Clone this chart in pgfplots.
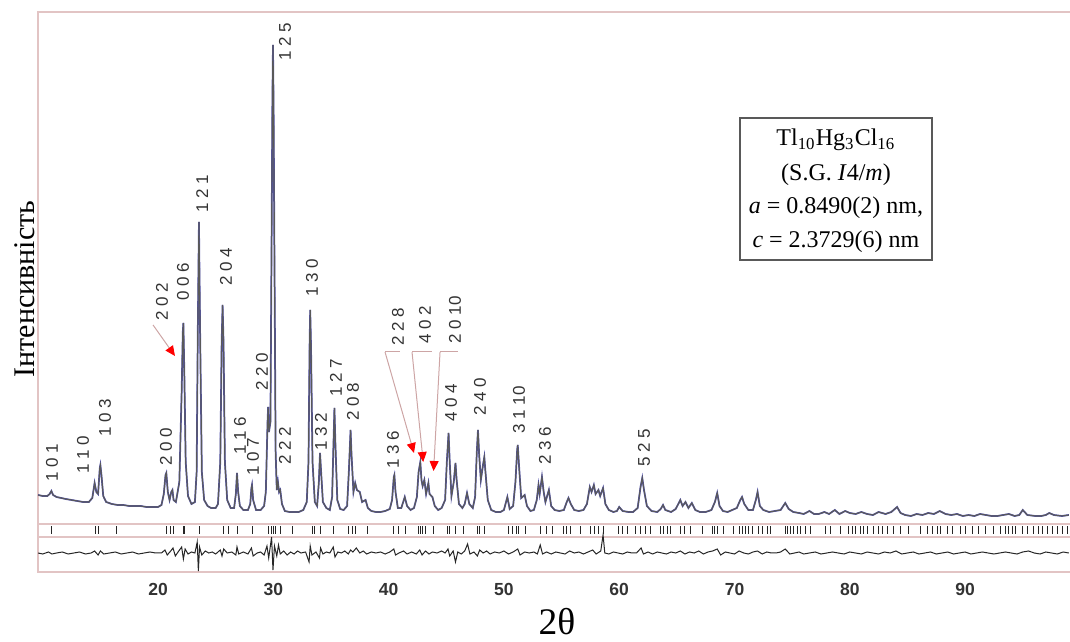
\documentclass[border=0pt]{standalone}
\usepackage{fontspec}
\setmainfont{Liberation Serif}
\setsansfont{Liberation Sans}
\usepackage{pgfplots}
\pgfplotsset{compat=1.18}
\usepackage{pgfplotstable}
\usetikzlibrary{arrows.meta}

\definecolor{framepink}{RGB}{226,196,196}
\definecolor{obsblue}{RGB}{84,84,176}
\definecolor{leader}{RGB}{205,165,165}

% observed pattern (2theta, intensity in arbitrary units)
\pgfplotstableread[row sep=\\]{
x y\\
9.6 77\\ 10.0 76\\ 10.4 76\\ 10.6 78\\ 10.75 81\\ 10.9 77\\ 11.2 75\\ 11.6 74\\ 12.0 73\\ 12.5 72\\
13.0 71\\ 13.5 70\\ 14.0 70\\ 14.3 74\\ 14.5 89\\ 14.65 80\\ 14.8 78\\ 14.95 104\\ 15.0 107\\ 15.1 96\\
15.25 76\\ 15.5 70\\ 16.0 68\\ 16.5 67\\ 17.0 67\\ 17.5 66\\ 18.0 66\\ 18.5 66\\ 19.0 65\\ 19.5 65\\
20.0 65\\ 20.3 67\\ 20.5 78\\ 20.65 97\\ 20.72 99\\ 20.85 80\\ 21.0 72\\ 21.15 80\\ 21.25 82\\ 21.35 72\\
21.55 70\\ 21.85 90\\ 22.05 180\\ 22.15 240\\ 22.2 249\\ 22.28 200\\ 22.4 110\\ 22.6 76\\ 22.9 68\\ 23.2 70\\
23.35 100\\ 23.45 240\\ 23.55 350\\ 23.65 240\\ 23.8 100\\ 24.0 72\\ 24.3 66\\ 24.6 64\\ 25.0 64\\ 25.2 68\\
25.4 110\\ 25.52 230\\ 25.6 267\\ 25.68 230\\ 25.8 110\\ 26.0 72\\ 26.3 64\\ 26.6 64\\ 26.75 78\\ 26.85 99\\
26.95 80\\ 27.1 66\\ 27.4 62\\ 27.8 62\\ 28.0 68\\ 28.1 84\\ 28.15 87\\ 28.25 72\\ 28.5 62\\ 28.9 62\\
29.2 66\\ 29.35 80\\ 29.5 150\\ 29.55 165\\ 29.62 140\\ 29.75 150\\ 29.85 330\\ 29.92 470\\ 29.97 527\\ 30.02 470\\
30.1 310\\ 30.2 120\\ 30.3 82\\ 30.4 90\\ 30.5 80\\ 30.6 82\\ 30.75 68\\ 31.0 61\\ 31.4 60\\ 31.8 60\\
32.2 60\\ 32.6 62\\ 32.9 70\\ 33.05 110\\ 33.15 230\\ 33.2 262\\ 33.27 225\\ 33.4 110\\ 33.6 70\\ 33.8 66\\
33.95 90\\ 34.05 119\\ 34.12 105\\ 34.3 70\\ 34.6 64\\ 34.9 62\\ 35.1 75\\ 35.2 120\\ 35.3 164\\ 35.38 130\\
35.55 72\\ 35.8 63\\ 36.1 62\\ 36.4 66\\ 36.55 100\\ 36.7 142\\ 36.78 118\\ 36.95 80\\ 37.1 89\\ 37.25 82\\
37.5 80\\ 37.7 70\\ 38.0 72\\ 38.2 64\\ 38.5 61\\ 38.9 60\\ 39.3 60\\ 39.7 61\\ 40.1 63\\ 40.3 72\\
40.45 95\\ 40.5 97\\ 40.6 80\\ 40.8 64\\ 41.1 64\\ 41.4 75\\ 41.6 66\\ 41.9 62\\ 42.2 64\\ 42.45 75\\
42.6 100\\ 42.75 110\\ 42.85 92\\ 42.95 86\\ 43.1 92\\ 43.25 78\\ 43.45 89\\ 43.55 78\\ 43.8 75\\ 44.0 66\\
44.3 62\\ 44.6 64\\ 44.9 72\\ 45.05 110\\ 45.2 139\\ 45.3 110\\ 45.45 76\\ 45.65 90\\ 45.8 109\\ 45.9 92\\
46.1 68\\ 46.4 64\\ 46.6 68\\ 46.8 79\\ 47.0 68\\ 47.3 64\\ 47.5 75\\ 47.65 120\\ 47.75 142\\ 47.85 118\\
48.0 92\\ 48.2 108\\ 48.3 115\\ 48.4 100\\ 48.6 72\\ 48.9 62\\ 49.3 60\\ 49.7 60\\ 50.0 62\\ 50.3 75\\
50.5 63\\ 50.8 66\\ 51.0 90\\ 51.15 122\\ 51.2 127\\ 51.3 108\\ 51.5 74\\ 51.8 77\\ 52.0 66\\ 52.3 61\\
52.6 62\\ 52.85 72\\ 53.0 87\\ 53.1 78\\ 53.3 95\\ 53.45 80\\ 53.6 70\\ 53.9 82\\ 54.1 66\\ 54.4 62\\
54.8 61\\ 55.2 62\\ 55.45 70\\ 55.6 74\\ 55.8 68\\ 56.1 62\\ 56.5 61\\ 56.9 62\\ 57.2 68\\ 57.45 85\\
57.6 80\\ 57.8 87\\ 57.95 78\\ 58.2 82\\ 58.35 76\\ 58.6 84\\ 58.8 68\\ 59.1 62\\ 59.5 60\\ 59.8 61\\
60.0 65\\ 60.3 61\\ 60.8 60\\ 61.2 60\\ 61.6 64\\ 61.85 85\\ 62.0 94\\ 62.15 82\\ 62.4 66\\ 62.8 61\\
63.3 60\\ 63.6 63\\ 63.8 67\\ 64.0 62\\ 64.5 60\\ 64.9 63\\ 65.3 72\\ 65.5 66\\ 65.75 70\\ 66.0 64\\
66.3 69\\ 66.6 62\\ 67.0 60\\ 67.5 60\\ 68.0 62\\ 68.3 70\\ 68.5 79\\ 68.7 66\\ 69.0 61\\ 69.4 60\\
69.8 62\\ 70.2 64\\ 70.5 72\\ 70.65 75\\ 70.85 68\\ 71.2 62\\ 71.6 62\\ 71.85 72\\ 72.0 80\\ 72.2 66\\
72.5 62\\ 73.0 60\\ 73.5 61\\ 74.0 62\\ 74.4 69\\ 74.7 63\\ 75.1 60\\ 75.6 59\\ 76.0 58\\ 76.5 61\\
76.9 58\\ 77.3 58\\ 77.8 60\\ 78.2 58\\ 78.7 62\\ 79.1 58\\ 79.6 61\\ 80.0 59\\ 80.5 58\\ 81.0 60\\
81.5 58\\ 82.0 57\\ 82.5 60\\ 83.1 58\\ 83.6 60\\ 84.1 65\\ 84.4 59\\ 84.8 57\\ 85.3 56\\ 85.8 58\\
86.3 57\\ 86.8 59\\ 87.3 58\\ 87.8 61\\ 88.3 58\\ 88.8 57\\ 89.3 58\\ 89.8 56\\ 90.3 57\\ 90.8 56\\
91.3 58\\ 91.8 57\\ 92.3 56\\ 92.8 56\\ 93.3 57\\ 93.8 58\\ 94.3 56\\ 94.7 57\\ 95.0 62\\ 95.4 57\\
96.1 56\\ 96.6 56\\ 97.0 57\\ 97.3 59\\ 97.7 57\\ 98.4 56\\ 99.0 57\\
}\obs

% difference curve
\pgfplotstableread[row sep=\\]{
x y\\
9.6 19\\ 10.0 18\\ 10.5 20\\ 10.8 18\\ 11.2 19\\ 11.7 20\\ 12.2 18\\ 12.7 19\\ 13.2 20\\ 13.7 18\\
14.2 19\\ 14.5 21\\ 14.8 17\\ 15.0 21\\ 15.3 18\\ 15.8 19\\ 16.3 20\\ 16.8 18\\ 17.3 19\\ 17.8 20\\
18.3 18\\ 18.8 19\\ 19.3 20\\ 19.8 19\\ 20.3 19\\ 20.6 22\\ 20.8 17\\ 21.1 21\\ 21.3 24\\ 21.5 16\\
21.8 21\\ 22.05 25\\ 22.2 13\\ 22.35 23\\ 22.6 18\\ 22.9 20\\ 23.2 19\\ 23.4 30\\ 23.5 1\\ 23.6 25\\
23.8 17\\ 24.1 21\\ 24.4 19\\ 24.7 20\\ 25.0 18\\ 25.4 22\\ 25.55 16\\ 25.7 23\\ 26.0 19\\ 26.4 20\\
26.75 17\\ 26.85 25\\ 27.0 18\\ 27.4 20\\ 27.8 18\\ 28.1 24\\ 28.25 16\\ 28.6 19\\ 28.9 20\\ 29.2 17\\
29.45 26\\ 29.6 14\\ 29.85 35\\ 29.97 2\\ 30.1 26\\ 30.3 16\\ 30.45 27\\ 30.6 18\\ 30.9 21\\ 31.2 17\\
31.5 20\\ 31.8 18\\ 32.1 21\\ 32.4 19\\ 32.8 20\\ 33.1 10\\ 33.2 26\\ 33.35 17\\ 33.7 20\\ 34.0 14\\
34.1 24\\ 34.3 18\\ 34.6 20\\ 34.9 19\\ 35.2 25\\ 35.35 15\\ 35.6 20\\ 35.9 19\\ 36.2 21\\ 36.5 18\\
36.7 22\\ 36.9 20\\ 37.2 24\\ 37.5 19\\ 37.8 21\\ 38.1 18\\ 38.5 20\\ 38.9 19\\ 39.3 20\\ 39.7 18\\
40.1 20\\ 40.45 23\\ 40.6 17\\ 40.9 19\\ 41.3 21\\ 41.6 18\\ 42.0 20\\ 42.4 18\\ 42.7 22\\ 42.9 17\\
43.2 21\\ 43.5 18\\ 43.8 20\\ 44.2 19\\ 44.6 21\\ 44.9 19\\ 45.15 23\\ 45.3 16\\ 45.6 21\\ 45.8 10\\
46.0 20\\ 46.3 18\\ 46.6 21\\ 46.85 28\\ 47.05 18\\ 47.4 20\\ 47.7 16\\ 47.9 22\\ 48.2 19\\ 48.5 21\\
48.8 18\\ 49.2 20\\ 49.6 19\\ 50.0 21\\ 50.4 18\\ 50.8 20\\ 51.2 23\\ 51.4 17\\ 51.8 20\\ 52.2 19\\
52.6 20\\ 52.9 18\\ 53.15 27\\ 53.35 18\\ 53.7 20\\ 54.1 18\\ 54.5 20\\ 54.9 19\\ 55.3 18\\ 55.7 21\\
56.1 19\\ 56.5 20\\ 56.9 18\\ 57.3 20\\ 57.7 22\\ 58.0 18\\ 58.4 21\\ 58.6 37\\ 58.75 19\\ 59.1 18\\
59.5 20\\ 59.9 19\\ 60.3 18\\ 60.7 20\\ 61.1 19\\ 61.5 19\\ 61.9 24\\ 62.1 18\\ 62.5 20\\ 62.9 18\\
63.3 20\\ 63.7 19\\ 64.1 18\\ 64.5 20\\ 64.9 19\\ 65.3 21\\ 65.7 18\\ 66.1 20\\ 66.5 19\\ 66.9 21\\
67.3 18\\ 67.7 20\\ 68.1 21\\ 68.5 23\\ 68.8 17\\ 69.2 20\\ 69.6 19\\ 70.0 18\\ 70.4 21\\ 70.8 19\\
71.2 18\\ 71.6 20\\ 72.0 21\\ 72.4 18\\ 72.8 20\\ 73.2 19\\ 73.6 19\\ 74.0 20\\ 74.4 23\\ 74.8 18\\
75.2 19\\ 75.6 20\\ 76.0 18\\ 76.5 19\\ 77.0 20\\ 77.5 18\\ 78.0 19\\ 78.5 20\\ 79.0 19\\ 79.5 18\\
80.0 20\\ 80.5 19\\ 81.0 18\\ 81.5 20\\ 82.0 19\\ 82.5 18\\ 83.0 20\\ 83.5 19\\ 84.0 21\\ 84.5 18\\
85.0 19\\ 85.5 20\\ 86.0 18\\ 86.5 19\\ 87.0 20\\ 87.5 18\\ 88.0 19\\ 88.5 20\\ 89.0 18\\ 89.5 19\\
90.0 20\\ 90.5 18\\ 91.0 19\\ 91.5 20\\ 92.0 19\\ 92.5 18\\ 93.0 19\\ 93.5 20\\ 94.0 19\\ 94.5 18\\
95.0 20\\ 95.5 21\\ 96.0 19\\ 96.5 18\\ 97.0 20\\ 97.5 19\\ 98.0 18\\ 98.5 20\\ 99.0 19\\
}\diff

% Bragg positions
\pgfplotstableread[row sep=\\]{
x y\\
10.72 42\\ 14.54 42\\ 14.80 42\\ 16.36 42\\ 20.69 42\\ 21.04 42\\ 21.30 42\\ 22.17 42\\ 22.25 42\\ 23.56 42\\
25.64 42\\ 26.07 42\\ 26.85 42\\ 28.15 42\\ 29.54 42\\ 29.80 42\\ 29.97 42\\ 30.15 42\\ 30.58 42\\ 31.62 42\\
33.36 42\\ 33.53 42\\ 34.05 42\\ 35.18 42\\ 36.48 42\\ 36.83 42\\ 37.09 42\\ 38.13 42\\ 40.38 42\\ 40.82 42\\
41.42 42\\ 42.55 42\\ 42.72 42\\ 42.90 42\\ 43.16 42\\ 43.85 42\\ 45.06 42\\ 45.24 42\\ 45.76 42\\ 46.45 42\\
47.67 42\\ 47.84 42\\ 48.27 42\\ 50.36 42\\ 50.70 42\\ 51.05 42\\ 51.22 42\\ 51.83 42\\ 53.13 42\\ 53.65 42\\
54.17 42\\ 55.13 42\\ 55.39 42\\ 55.73 42\\ 56.60 42\\ 57.47 42\\ 57.81 42\\ 58.16 42\\ 58.59 42\\ 59.90 42\\
60.24 42\\ 60.68 42\\ 61.37 42\\ 61.80 42\\ 62.24 42\\ 62.67 42\\ 63.54 42\\ 63.80 42\\ 64.15 42\\ 64.41 42\\
65.27 42\\ 65.62 42\\ 66.14 42\\ 67.18 42\\ 68.05 42\\ 68.22 42\\ 68.48 42\\ 69.00 42\\ 69.87 42\\ 70.39 42\\
70.65 42\\ 70.91 42\\ 71.17 42\\ 71.52 42\\ 72.04 42\\ 72.39 42\\ 72.82 42\\ 73.08 42\\ 74.38 42\\ 74.55 42\\
74.81 42\\ 75.07 42\\ 75.42 42\\ 75.68 42\\ 76.11 42\\ 76.55 42\\ 77.85 42\\ 78.28 42\\ 79.15 42\\ 79.84 42\\
80.19 42\\ 80.45 42\\ 80.88 42\\ 81.14 42\\ 81.49 42\\ 82.01 42\\ 82.45 42\\ 82.79 42\\ 83.23 42\\ 83.75 42\\
84.35 42\\ 85.05 42\\ 86.09 42\\ 86.70 42\\ 87.13 42\\ 87.56 42\\ 87.82 42\\ 88.43 42\\ 88.86 42\\ 89.56 42\\
89.99 42\\ 90.60 42\\ 91.12 42\\ 91.73 42\\ 92.42 42\\ 93.03 42\\ 93.46 42\\ 93.72 42\\ 94.07 42\\ 94.33 42\\
94.94 42\\ 95.37 42\\ 95.89 42\\ 96.32 42\\ 96.67 42\\ 97.10 42\\ 97.54 42\\ 97.97 42\\ 98.40 42\\ 98.84 42\\
}\bragg

\begin{document}
\begin{tikzpicture}[hkl/.style={rotate=90, font=\sffamily\fontsize{6.8}{7}\selectfont, text=black!80, inner sep=0pt}]
\useasboundingbox (-15.2pt,-28pt) rectangle (412.8pt,228.8pt);
\begin{axis}[
  scale only axis, width=412.8pt, height=224pt,
  xmin=9.59, xmax=99.1, ymin=0, ymax=560,
  axis line style={draw=none}, clip=false,
  xtick={20,30,...,90}, ytick=\empty, major tick length=0pt,
  /pgf/number format/assume math mode=true,
  xticklabel style={font=\sffamily\bfseries\fontsize{7}{8}\selectfont, text=black!80, yshift=-1pt},
]
% frame and separator lines
\draw[framepink, line width=0.6pt] (rel axis cs:1,1) -- (rel axis cs:0,1) -- (rel axis cs:0,0) -- (rel axis cs:1,0);
\addplot[framepink, line width=0.6pt] coordinates {(9.59,48) (99.1,48)};
\addplot[framepink, line width=0.6pt] coordinates {(9.59,35) (99.1,35)};

\addplot[obsblue, line width=0.7pt] table[x=x, y=y] {\obs};
\addplot[black!65, line width=0.45pt] table[x=x, y=y] {\obs};
\addplot[black!85, line width=0.4pt] table[x=x, y=y] {\diff};
\addplot[only marks, mark=|, mark size=1.5pt, mark options={black!85, line width=0.35pt}] table[x=x, y=y] {\bragg};

% reflection labels
\node[hkl] at (axis cs:10.81,109) {1 0 1};
\node[hkl] at (axis cs:13.50,117) {1 1 0};
\node[hkl] at (axis cs:15.40,154) {1 0 3};
\node[hkl] at (axis cs:20.69,125) {2 0 0};
\node[hkl] at (axis cs:20.35,270) {2 0 2};
\node[hkl] at (axis cs:22.17,290) {0 0 6};
\node[hkl] at (axis cs:23.82,378) {1 2 1};
\node[hkl] at (axis cs:25.90,305) {2 0 4};
\node[hkl] at (axis cs:27.11,136) {1 1 6};
\node[hkl] at (axis cs:28.24,115) {1 0 7};
\node[hkl] at (axis cs:29.02,200) {2 2 0};
\node[hkl] at (axis cs:31.01,530) {1 2 5};
\node[hkl] at (axis cs:31.01,126) {2 2 2};
\node[hkl] at (axis cs:33.36,294) {1 3 0};
\node[hkl] at (axis cs:34.14,140) {1 3 2};
\node[hkl] at (axis cs:35.44,194) {1 2 7};
\node[hkl] at (axis cs:36.91,170) {2 0 8};
\node[hkl] at (axis cs:40.38,122) {1 3 6};
\node[hkl] at (axis cs:40.82,245) {2 2 8};
\node[hkl] at (axis cs:43.16,247) {4 0 2};
\node[hkl] at (axis cs:45.76,252) {2 0 10};
\node[hkl] at (axis cs:45.41,169) {4 0 4};
\node[hkl] at (axis cs:47.93,175) {2 4 0};
\node[hkl] at (axis cs:51.31,162) {3 1 10};
\node[hkl] at (axis cs:53.56,126) {2 3 6};
\node[hkl] at (axis cs:62.15,124) {5 2 5};

% leaders with red arrowheads
\draw[leader, line width=0.4pt, -{Triangle[length=4pt, width=3.6pt, color=red, fill=red]}] (axis cs:19.57,247) -- (axis cs:21.47,216);
\draw[leader, line width=0.4pt] (axis cs:39.69,220) -- (axis cs:40.99,220);
\draw[leader, line width=0.4pt, -{Triangle[length=4pt, width=3.6pt, color=red, fill=red]}] (axis cs:39.69,220) -- (axis cs:42.20,119);
\draw[leader, line width=0.4pt] (axis cs:42.03,220) -- (axis cs:43.76,220);
\draw[leader, line width=0.4pt, -{Triangle[length=4pt, width=3.6pt, color=red, fill=red]}] (axis cs:42.03,220) -- (axis cs:43.00,110);
\draw[leader, line width=0.4pt] (axis cs:44.46,220) -- (axis cs:46.02,220);
\draw[leader, line width=0.4pt, -{Triangle[length=4pt, width=3.6pt, color=red, fill=red]}] (axis cs:44.46,220) -- (axis cs:43.90,101);

% info box
\draw[black!65, line width=0.5pt, fill=white] (axis cs:70.48,312) rectangle (axis cs:87.13,454);
\node[font=\fontsize{9.6}{11}\selectfont] at (axis cs:78.80,432) {Tl\textsubscript{10}Hg\textsubscript{3}Cl\textsubscript{16}};
\node[font=\fontsize{9.6}{11}\selectfont] at (axis cs:78.80,397) {(S.G. \textit{I}4/\textit{m})};
\node[font=\fontsize{9.6}{11}\selectfont] at (axis cs:78.80,364) {\textit{a} = 0.8490(2) nm,};
\node[font=\fontsize{9.6}{11}\selectfont] at (axis cs:78.80,330) {\textit{c} = 2.3729(6) nm};

% axis titles
\node[font=\fontsize{15}{16}\selectfont] at (axis cs:54.6,-50) {2θ};
\node[rotate=90, font=\fontsize{12}{13}\selectfont] at (axis cs:8.46,283) {Інтенсивність};
\end{axis}
\end{tikzpicture}
\end{document}
